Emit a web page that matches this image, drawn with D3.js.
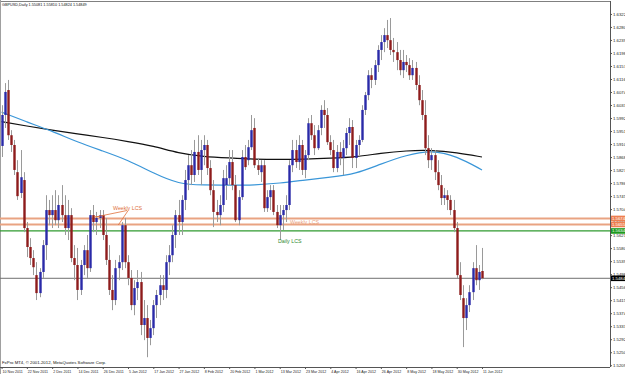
<!DOCTYPE html>
<html><head><meta charset="utf-8">
<script src="https://cdn.jsdelivr.net/npm/d3@7/dist/d3.min.js"></script>
<style>html,body{margin:0;padding:0;background:#fff;overflow:hidden}svg{display:block}text{font-family:"Liberation Sans",Arial,sans-serif}</style>
</head><body>
<svg id="c" width="625" height="374"></svg>
<script>
// ---- DATA (GBPUSD Daily, 10 Nov 2011 - 11 Jun 2012) ----
const open = [1.5904,1.6002,1.6081,1.5938,1.5907,1.5821,1.5755,1.5796,1.5644,1.5584,1.5549,1.5495,1.5438,1.5505,1.5590,1.5701,1.5685,1.5701,1.5669,1.5717,1.5685,1.5644,1.5685,1.5549,1.5527,1.5448,1.5527,1.5574,1.5517,1.5685,1.5663,1.5676,1.5685,1.5622,1.5543,1.5448,1.5416,1.5517,1.5536,1.5653,1.5536,1.5486,1.5400,1.5454,1.5473,1.5337,1.5359,1.5296,1.5327,1.5400,1.5432,1.5463,1.5448,1.5536,1.5558,1.5622,1.5685,1.5663,1.5733,1.5796,1.5843,1.5812,1.5885,1.5828,1.5891,1.5907,1.5834,1.5764,1.5695,1.5685,1.5717,1.5780,1.5802,1.5853,1.5780,1.5669,1.5742,1.5869,1.5859,1.5900,1.5961,1.5843,1.5821,1.5843,1.5707,1.5742,1.5764,1.5695,1.5653,1.5685,1.5701,1.5717,1.5843,1.5891,1.5853,1.5907,1.5828,1.5875,1.5976,1.5938,1.5897,1.5961,1.6018,1.6002,1.5916,1.5891,1.5834,1.5885,1.5866,1.5897,1.5945,1.5964,1.5866,1.5907,1.5923,1.6018,1.6065,1.6128,1.6113,1.6160,1.6208,1.6233,1.6255,1.6239,1.6208,1.6201,1.6176,1.6144,1.6170,1.6160,1.6128,1.6151,1.6097,1.6049,1.6002,1.5897,1.5859,1.5875,1.5821,1.5780,1.5739,1.5748,1.5733,1.5701,1.5644,1.5495,1.5422,1.5359,1.5400,1.5441,1.5517,1.5479,1.5508];
const high = [1.6033,1.6103,1.6113,1.5954,1.5923,1.5859,1.5891,1.5821,1.5663,1.5612,1.5574,1.5536,1.5517,1.5606,1.5748,1.5733,1.5748,1.5764,1.5748,1.5780,1.5748,1.5733,1.5707,1.5590,1.5581,1.5543,1.5590,1.5622,1.5701,1.5717,1.5695,1.5701,1.5701,1.5676,1.5590,1.5495,1.5543,1.5558,1.5663,1.5676,1.5558,1.5511,1.5479,1.5511,1.5505,1.5416,1.5400,1.5353,1.5416,1.5448,1.5495,1.5495,1.5558,1.5590,1.5653,1.5701,1.5733,1.5748,1.5828,1.5875,1.5891,1.5923,1.5938,1.5923,1.5938,1.5923,1.5859,1.5796,1.5733,1.5748,1.5828,1.5843,1.5891,1.5891,1.5812,1.5764,1.5891,1.5907,1.5923,1.6002,1.5992,1.5866,1.5859,1.5859,1.5764,1.5780,1.5780,1.5717,1.5717,1.5717,1.5748,1.5859,1.5923,1.5923,1.5938,1.5923,1.5891,1.5992,1.6002,1.5970,1.5970,1.6033,1.6049,1.6024,1.5938,1.5923,1.5907,1.5916,1.5923,1.5961,1.5992,1.5986,1.5923,1.5938,1.6033,1.6075,1.6144,1.6151,1.6176,1.6223,1.6255,1.6277,1.6303,1.6309,1.6246,1.6233,1.6208,1.6208,1.6192,1.6182,1.6176,1.6170,1.6128,1.6081,1.6049,1.5938,1.5897,1.5891,1.5859,1.5812,1.5771,1.5764,1.5748,1.5733,1.5663,1.5536,1.5463,1.5422,1.5463,1.5536,1.5590,1.5527,1.5581];
const low = [1.5869,1.5961,1.5923,1.5885,1.5812,1.5733,1.5739,1.5631,1.5552,1.5527,1.5495,1.5416,1.5425,1.5486,1.5543,1.5653,1.5644,1.5653,1.5644,1.5663,1.5622,1.5606,1.5536,1.5479,1.5416,1.5432,1.5495,1.5486,1.5505,1.5631,1.5622,1.5644,1.5606,1.5527,1.5432,1.5384,1.5400,1.5479,1.5511,1.5517,1.5463,1.5384,1.5368,1.5416,1.5305,1.5289,1.5235,1.5273,1.5305,1.5359,1.5400,1.5416,1.5422,1.5495,1.5536,1.5581,1.5622,1.5622,1.5701,1.5764,1.5780,1.5790,1.5812,1.5780,1.5843,1.5812,1.5748,1.5647,1.5663,1.5653,1.5695,1.5733,1.5780,1.5764,1.5663,1.5653,1.5733,1.5828,1.5843,1.5891,1.5834,1.5812,1.5790,1.5695,1.5695,1.5701,1.5685,1.5644,1.5606,1.5638,1.5663,1.5701,1.5821,1.5834,1.5828,1.5812,1.5802,1.5859,1.5923,1.5875,1.5891,1.5938,1.5961,1.5907,1.5875,1.5821,1.5821,1.5843,1.5812,1.5875,1.5907,1.5834,1.5834,1.5875,1.5916,1.6002,1.6049,1.6087,1.6097,1.6138,1.6176,1.6201,1.6214,1.6192,1.6170,1.6144,1.6128,1.6119,1.6138,1.6113,1.6113,1.6081,1.6033,1.5986,1.5875,1.5834,1.5828,1.5796,1.5764,1.5717,1.5717,1.5701,1.5685,1.5631,1.5486,1.5416,1.5267,1.5321,1.5378,1.5416,1.5463,1.5448,1.5482];
const close = [1.6002,1.6075,1.5938,1.5907,1.5828,1.5745,1.5805,1.5644,1.5584,1.5549,1.5520,1.5438,1.5505,1.5590,1.5701,1.5685,1.5701,1.5669,1.5717,1.5685,1.5644,1.5685,1.5549,1.5527,1.5448,1.5527,1.5574,1.5517,1.5685,1.5663,1.5676,1.5685,1.5622,1.5543,1.5448,1.5416,1.5517,1.5536,1.5653,1.5536,1.5486,1.5400,1.5454,1.5473,1.5337,1.5359,1.5296,1.5327,1.5400,1.5432,1.5463,1.5448,1.5536,1.5558,1.5622,1.5685,1.5663,1.5733,1.5796,1.5843,1.5812,1.5885,1.5828,1.5891,1.5907,1.5834,1.5764,1.5695,1.5685,1.5717,1.5802,1.5802,1.5853,1.5780,1.5669,1.5742,1.5869,1.5837,1.5900,1.5954,1.5843,1.5828,1.5843,1.5707,1.5742,1.5764,1.5695,1.5653,1.5685,1.5701,1.5717,1.5843,1.5891,1.5853,1.5907,1.5828,1.5875,1.5976,1.5938,1.5897,1.5954,1.6018,1.6002,1.5916,1.5891,1.5834,1.5885,1.5866,1.5897,1.5945,1.5964,1.5866,1.5907,1.5923,1.6018,1.6065,1.6128,1.6113,1.6160,1.6208,1.6233,1.6255,1.6239,1.6208,1.6201,1.6176,1.6144,1.6170,1.6160,1.6128,1.6151,1.6097,1.6049,1.6002,1.5897,1.5859,1.5875,1.5821,1.5780,1.5739,1.5748,1.5733,1.5701,1.5644,1.5495,1.5432,1.5359,1.5400,1.5441,1.5517,1.5479,1.5505,1.5485];

// moving averages, read every 8 bars
const maBars = [0,8,16,24,32,40,48,56,64,72,80,88,96,104,112,120,128,136,144,152];
const maSlow = [1.5981,1.5967,1.5954,1.5942,1.5931,1.5918,1.5904,1.5881,1.5870,1.5866,1.5862,1.5861,1.5862,1.5865,1.5869,1.5881,1.5889,1.5891,1.5883,1.5869];
const maFast = [1.6011,1.5980,1.5951,1.5916,1.5888,1.5859,1.5818,1.5783,1.5780,1.5780,1.5780,1.5786,1.5796,1.5805,1.5815,1.5847,1.5875,1.5891,1.5872,1.5828];

// time axis labels (every 8 bars)
const xTickBars = [0,8,16,24,32,40,48,56,64,72,80,88,96,104,112,120,128,136,144,152];
const xTickLabels = ["10 Nov 2011","22 Nov 2011","2 Dec 2011","14 Dec 2011","26 Dec 2011","5 Jan 2012","17 Jan 2012","27 Jan 2012","8 Feb 2012","20 Feb 2012","1 Mar 2012","13 Mar 2012","23 Mar 2012","4 Apr 2012","16 Apr 2012","26 Apr 2012","8 May 2012","18 May 2012","30 May 2012","11 Jun 2012"];

// price axis labels
const yTicks = [1.63220,1.62808,1.62396,1.61984,1.61572,1.61160,1.60748,1.60336,1.59924,1.59512,1.59100,1.58688,1.58276,1.57864,1.57452,1.57040,1.56628,1.56216,1.55804,1.55392,1.54980,1.54568,1.54156,1.53744,1.53332,1.52920,1.52508,1.52096];

// horizontal levels
const weeklyLCS = [1.56744, 1.56554];
const dailyLCS = 1.56348;
const lastPrice = 1.54849;
const header = "GBPUSD,Daily  1.55081 1.55810 1.54824 1.54849";
const copyright = "FxPro MT4, \u00a9 2001-2012, MetaQuotes Software Corp.";

// ---- DRAW ----
const svg = d3.select("#c");
const W = 610, B = 367, T = 1;
const FS = 4.3;
const x = d3.scaleLinear().domain([-0.5, 192.5]).range([0, W]);
const y = d3.scaleLinear().domain([1.5204, 1.6363]).range([B, T]);

const bars = open.map((o,i)=>({i, o, h:high[i], l:low[i], c:close[i]}));

// frame
svg.append("line").attr("x1",0).attr("x2",W).attr("y1",T+0.5).attr("y2",T+0.5).attr("stroke","#808080");
svg.append("line").attr("x1",0.5).attr("x2",0.5).attr("y1",0).attr("y2",374).attr("stroke","#a0a0a0");

// horizontal levels
weeklyLCS.forEach(v=>{
  svg.append("line").attr("x1",0).attr("x2",W).attr("y1",y(v)).attr("y2",y(v)).attr("stroke","#e9a382").attr("stroke-width",2);
});
svg.append("line").attr("x1",0).attr("x2",W).attr("y1",y(dailyLCS)).attr("y2",y(dailyLCS)).attr("stroke","#2f9a2f").attr("stroke-width",1.3);
svg.append("line").attr("x1",0).attr("x2",W).attr("y1",y(lastPrice)).attr("y2",y(lastPrice)).attr("stroke","#707070").attr("stroke-width",1);

// moving averages
const maLine = d3.line().x((d,k)=>x(maBars[k])).y(d=>y(d)).curve(d3.curveBasis);
svg.append("path").attr("d",maLine(maSlow)).attr("fill","none").attr("stroke","#111").attr("stroke-width",1.2);
svg.append("path").attr("d",maLine(maFast)).attr("fill","none").attr("stroke","#3a96d8").attr("stroke-width",1.2);

// candles
const g = svg.append("g");
g.selectAll("line.w").data(bars).join("line").attr("class","w")
  .attr("x1",d=>Math.round(x(d.i))+0.5).attr("x2",d=>Math.round(x(d.i))+0.5)
  .attr("y1",d=>y(d.h)).attr("y2",d=>y(d.l)).attr("stroke","#9a9a9a").attr("stroke-width",1);
g.selectAll("rect.b").data(bars).join("rect").attr("class","b")
  .attr("x",d=>Math.round(x(d.i))-0.7).attr("width",2.4)
  .attr("y",d=>y(Math.max(d.o,d.c)))
  .attr("height",d=>Math.max(1,Math.abs(y(d.o)-y(d.c))))
  .attr("fill",d=>d.c>=d.o?"#2a2aa8":"#8e1c1c");

// annotations
const AF = 5.3;
svg.append("text").attr("x",113).attr("y",209.5).attr("font-size",AF).attr("fill","#e0703a").text("Weekly LCS");
svg.append("line").attr("x1",94).attr("y1",216.7).attr("x2",100).attr("y2",216.7).attr("stroke","#e0703a").attr("stroke-width",0.8);
svg.append("line").attr("x1",97).attr("y1",216.7).attr("x2",127).attr("y2",210.5).attr("stroke","#e0703a").attr("stroke-width",0.8);
svg.append("line").attr("x1",128).attr("y1",210.7).attr("x2",118.3).attr("y2",225).attr("stroke","#e0703a").attr("stroke-width",0.8);
svg.append("text").attr("x",290).attr("y",224.2).attr("font-size",AF).attr("fill","#eba07c").text("Weekly LCS");
svg.append("text").attr("x",278).attr("y",243).attr("font-size",AF).attr("fill","#2f8a2f").text("Daily LCS");

// right price axis
const ya = svg.append("g").attr("transform",`translate(${W},0)`)
  .call(d3.axisRight(y).tickValues(yTicks).tickSize(2).tickPadding(1).tickFormat(d3.format(".5f")));
ya.select(".domain").attr("stroke","#555").attr("d",`M0.5,${T}V${B}`);
ya.selectAll("line").attr("stroke","#555");
ya.selectAll("text").attr("font-size",FS).attr("fill","#222").attr("font-family","Liberation Sans, Arial, sans-serif");

// price tags
function tag(v, fill, col){
  const g2 = svg.append("g");
  g2.append("rect").attr("x",W+1).attr("y",y(v)-2.8).attr("width",15).attr("height",5.6).attr("fill",fill);
  g2.append("text").attr("x",W+2).attr("y",y(v)+1.5).attr("font-size",FS).attr("fill",col).text(v.toFixed(5));
}
tag(weeklyLCS[0],"#ee7f50","#fff");
tag(weeklyLCS[1],"#ee7f50","#fff");
tag(dailyLCS,"#1f9a1f","#fff");
tag(lastPrice,"#000","#fff");

// bottom time axis
const xa = svg.append("g").attr("transform",`translate(0,${B})`)
  .call(d3.axisBottom(x).tickValues(xTickBars).tickSize(2).tickFormat((d,k)=>xTickLabels[k]));
xa.select(".domain").attr("stroke","#555").attr("d",`M0,0.5H${W}`);
xa.selectAll("line").attr("stroke","#555");
xa.selectAll("text").attr("font-size",3.6).attr("fill","#222").attr("text-anchor","start").attr("dx",0.5).attr("dy",0).attr("y",5.6).attr("font-family","Liberation Sans, Arial, sans-serif");

svg.append("text").attr("x",2).attr("y",6).attr("font-size",3.8).attr("fill","#111").text(header);
svg.append("text").attr("x",2).attr("y",364).attr("font-size",FS).attr("fill","#111").text(copyright);
</script>
</body></html>
